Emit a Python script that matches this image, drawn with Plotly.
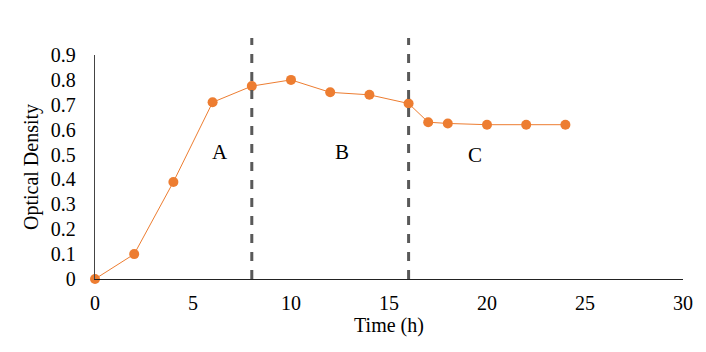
import plotly.graph_objects as go

time_h = [0, 2, 4, 6, 8, 10, 12, 14, 16, 17, 18, 20, 22, 24]
od = [0.0, 0.10, 0.39, 0.71, 0.775, 0.80, 0.75, 0.74, 0.705, 0.63, 0.625, 0.62, 0.62, 0.62]
phase_bounds = [8, 16]
phase_labels = ["A", "B", "C"]
phase_label_x = [6.4, 12.6, 19.4]
phase_label_y = [0.51, 0.51, 0.50]

FONT = "Liberation Serif, Times New Roman, serif"

fig = go.Figure()
fig.add_trace(go.Scatter(
    x=time_h, y=od, mode="lines+markers",
    line=dict(color="#ED7D31", width=1),
    marker=dict(color="#ED7D31", size=10),
    cliponaxis=False, showlegend=False,
))

for xb in phase_bounds:
    fig.add_shape(type="line", xref="x", yref="paper", x0=xb, x1=xb, y0=0, y1=1.076,
                  line=dict(color="#595959", width=3, dash="dash"), layer="above")

for lab, lx, ly in zip(phase_labels, phase_label_x, phase_label_y):
    fig.add_annotation(x=lx, y=ly, text=lab, showarrow=False,
                       font=dict(family=FONT, size=21, color="black"))

fig.update_layout(
    width=706, height=352,
    margin=dict(l=95, r=23, t=55, b=73),
    paper_bgcolor="white", plot_bgcolor="white",
    font=dict(family=FONT, size=20, color="black"),
    xaxis=dict(range=[0, 30], dtick=5, showgrid=False, zeroline=False,
               showline=True, linecolor="#222222", linewidth=1.3,
               ticks="", ticklabelstandoff=6,
               title=dict(text="Time (h)", standoff=0, font=dict(size=20))),
    yaxis=dict(range=[0, 0.9], dtick=0.1, showgrid=False, zeroline=False,
               showline=True, linecolor="#444444", linewidth=1.3,
               ticks="", ticklabelstandoff=14, tickformat=".1~f",
               title=dict(text="Optical Density", standoff=6, font=dict(size=20))),
)

fig.write_html("out.html")
